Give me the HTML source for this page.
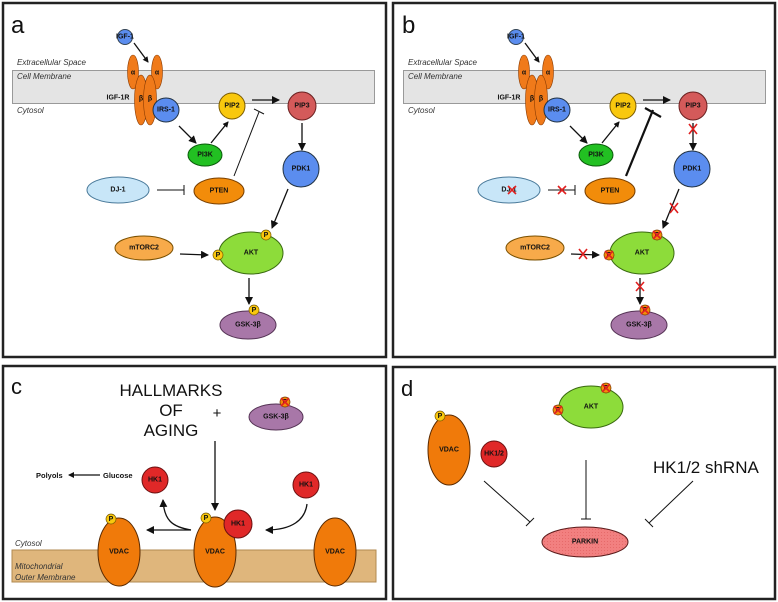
<!DOCTYPE html>
<html><head><meta charset="utf-8"><style>
html,body{margin:0;padding:0;background:#fff;}
svg{display:block;font-family:"Liberation Sans",sans-serif;}
.b{font-weight:bold;font-size:7px;text-anchor:middle;dominant-baseline:central;fill:#111;}
.it{font-style:italic;font-size:8px;fill:#333;}
.ln{stroke:#111;stroke-width:1.3;fill:none;}
.x{stroke:#e02020;stroke-width:1.6;fill:none;}
</style></head><body>
<svg width="778" height="602" viewBox="0 0 778 602" xmlns="http://www.w3.org/2000/svg">
<defs>
<marker id="ah" markerWidth="8" markerHeight="8" refX="7" refY="4" orient="auto" markerUnits="userSpaceOnUse"><path d="M0,0 L8,4 L0,8 z" fill="#111"/></marker>
<marker id="ahs" markerWidth="6" markerHeight="6" refX="5" refY="3" orient="auto" markerUnits="userSpaceOnUse"><path d="M0,0 L6,3 L0,6 z" fill="#111"/></marker>
<pattern id="dots" width="3" height="3" patternUnits="userSpaceOnUse"><rect width="3" height="3" fill="#f28080"/><rect x="1" y="1" width="1" height="1" fill="#e66a6a"/></pattern>
</defs>
<rect width="778" height="602" fill="#fff"/>
<!-- borders -->
<rect x="3" y="3" width="383" height="354" fill="none" stroke="#222" stroke-width="2.5"/>
<rect x="393" y="3" width="382" height="354" fill="none" stroke="#222" stroke-width="2.5"/>
<rect x="3" y="366" width="383" height="233" fill="none" stroke="#222" stroke-width="2.5"/>
<rect x="393" y="367" width="382" height="232" fill="none" stroke="#222" stroke-width="2.5"/>

<!-- ===== PANEL A ===== -->
<text x="11" y="33" font-size="24" fill="#111">a</text>
<text x="17" y="65" class="it">Extracellular Space</text>
<rect x="12.5" y="70.5" width="362" height="33" fill="#e4e4e4" stroke="#999"/>
<text x="17" y="79" class="it">Cell Membrane</text>
<text x="17" y="113" class="it">Cytosol</text>
<circle cx="125" cy="37" r="7.5" fill="#5b8def" stroke="#345"/><text x="125" y="37" class="b" font-size="4">IGF-1</text>
<line x1="134" y1="43" x2="148" y2="62" class="ln" marker-end="url(#ahs)"/>
<ellipse cx="133" cy="72" rx="5.5" ry="17" fill="#f07a1a" stroke="#8a3a00" stroke-width=".6"/><text x="133" y="73" class="b" font-size="5" font-weight="normal">α</text>
<ellipse cx="157" cy="72" rx="5.5" ry="17" fill="#f07a1a" stroke="#8a3a00" stroke-width=".6"/><text x="157" y="73" class="b" font-size="5" font-weight="normal">α</text>
<ellipse cx="141" cy="100" rx="6.5" ry="25" fill="#f07a1a" stroke="#8a3a00" stroke-width=".6"/><text x="141" y="99" class="b" font-size="5" font-weight="normal">β</text>
<ellipse cx="150" cy="100" rx="6.5" ry="25" fill="#f07a1a" stroke="#8a3a00" stroke-width=".6"/><text x="150" y="99" class="b" font-size="5" font-weight="normal">β</text>
<text x="118" y="98" class="b" font-size="8">IGF-1R</text>
<ellipse cx="166" cy="110" rx="13" ry="12" fill="#5b8def" stroke="#234"/><text x="166" y="110" class="b">IRS-1</text>
<circle cx="232" cy="106" r="13" fill="#f9c80e" stroke="#7a5a00"/><text x="232" y="106" class="b">PIP2</text>
<line x1="252" y1="100" x2="279" y2="100" class="ln" marker-end="url(#ah)"/>
<circle cx="302" cy="106" r="14" fill="#d45a5a" stroke="#6a2020"/><text x="302" y="106" class="b">PIP3</text>
<line x1="302" y1="123" x2="302" y2="150" class="ln" marker-end="url(#ah)"/>
<circle cx="301" cy="169" r="18" fill="#5b8def" stroke="#234"/><text x="301" y="169" class="b">PDK1</text>
<ellipse cx="205" cy="155" rx="17" ry="11" fill="#22c022" stroke="#0a5a0a"/><text x="205" y="155" class="b">PI3K</text>
<line x1="179" y1="126" x2="196" y2="143" class="ln" marker-end="url(#ah)"/>
<line x1="211" y1="143" x2="228" y2="122" class="ln" marker-end="url(#ahs)"/>
<line x1="234" y1="176" x2="259" y2="112" stroke="#111" stroke-width="1"/><line x1="254" y1="109" x2="264" y2="114" stroke="#111" stroke-width="1"/>
<ellipse cx="118" cy="190" rx="31" ry="13" fill="#c8e6f8" stroke="#4a7a9a"/><text x="118" y="190" class="b">DJ-1</text>
<line x1="157" y1="190" x2="184" y2="190" stroke="#111" stroke-width="1"/><line x1="184" y1="185" x2="184" y2="195" stroke="#111" stroke-width="1"/>
<ellipse cx="219" cy="191" rx="25" ry="13" fill="#f28c0a" stroke="#7a4000"/><text x="219" y="191" class="b">PTEN</text>
<line x1="288" y1="189" x2="272" y2="228" class="ln" marker-end="url(#ah)"/>
<ellipse cx="144" cy="248" rx="29" ry="12" fill="#f7aa4a" stroke="#7a5000"/><text x="144" y="248" class="b">mTORC2</text>
<line x1="180" y1="254" x2="208" y2="255" class="ln" marker-end="url(#ah)"/>
<ellipse cx="251" cy="253" rx="32" ry="21" fill="#8ddc3a" stroke="#3a6a10"/><text x="251" y="253" class="b">AKT</text>
<circle cx="218" cy="255" r="5" fill="#f9c80e" stroke="#7a5a00" stroke-width=".7"/><text x="218" y="255.5" class="b" font-size="6" font-weight="normal">P</text>
<circle cx="266" cy="235" r="5" fill="#f9c80e" stroke="#7a5a00" stroke-width=".7"/><text x="266" y="235.5" class="b" font-size="6" font-weight="normal">P</text>
<line x1="249" y1="278" x2="249" y2="304" class="ln" marker-end="url(#ah)"/>
<ellipse cx="248" cy="325" rx="28" ry="14" fill="#a877a8" stroke="#553355"/><text x="248" y="325" class="b">GSK-3β</text>
<circle cx="254" cy="310" r="5" fill="#f9c80e" stroke="#7a5a00" stroke-width=".7"/><text x="254" y="310.5" class="b" font-size="6" font-weight="normal">P</text>

<!-- ===== PANEL B ===== -->
<g transform="translate(391,0)">
<text x="11" y="33" font-size="24" fill="#111">b</text>
<text x="17" y="65" class="it">Extracellular Space</text>
<rect x="12.5" y="70.5" width="362" height="33" fill="#e4e4e4" stroke="#999"/>
<text x="17" y="79" class="it">Cell Membrane</text>
<text x="17" y="113" class="it">Cytosol</text>
<circle cx="125" cy="37" r="7.5" fill="#5b8def" stroke="#345"/><text x="125" y="37" class="b" font-size="4">IGF-1</text>
<line x1="134" y1="43" x2="148" y2="62" class="ln" marker-end="url(#ahs)"/>
<ellipse cx="133" cy="72" rx="5.5" ry="17" fill="#f07a1a" stroke="#8a3a00" stroke-width=".6"/><text x="133" y="73" class="b" font-size="5" font-weight="normal">α</text>
<ellipse cx="157" cy="72" rx="5.5" ry="17" fill="#f07a1a" stroke="#8a3a00" stroke-width=".6"/><text x="157" y="73" class="b" font-size="5" font-weight="normal">α</text>
<ellipse cx="141" cy="100" rx="6.5" ry="25" fill="#f07a1a" stroke="#8a3a00" stroke-width=".6"/><text x="141" y="99" class="b" font-size="5" font-weight="normal">β</text>
<ellipse cx="150" cy="100" rx="6.5" ry="25" fill="#f07a1a" stroke="#8a3a00" stroke-width=".6"/><text x="150" y="99" class="b" font-size="5" font-weight="normal">β</text>
<text x="118" y="98" class="b" font-size="8">IGF-1R</text>
<ellipse cx="166" cy="110" rx="13" ry="12" fill="#5b8def" stroke="#234"/><text x="166" y="110" class="b">IRS-1</text>
<circle cx="232" cy="106" r="13" fill="#f9c80e" stroke="#7a5a00"/><text x="232" y="106" class="b">PIP2</text>
<line x1="252" y1="100" x2="279" y2="100" class="ln" marker-end="url(#ah)"/>
<circle cx="302" cy="106" r="14" fill="#d45a5a" stroke="#6a2020"/><text x="302" y="106" class="b">PIP3</text>
<line x1="302" y1="123" x2="302" y2="150" class="ln" marker-end="url(#ah)"/>
<path d="M298,124 L306,134 M306,124 L298,134" class="x"/>
<circle cx="301" cy="169" r="18" fill="#5b8def" stroke="#234"/><text x="301" y="169" class="b">PDK1</text>
<ellipse cx="205" cy="155" rx="17" ry="11" fill="#22c022" stroke="#0a5a0a"/><text x="205" y="155" class="b">PI3K</text>
<line x1="179" y1="126" x2="196" y2="143" class="ln" marker-end="url(#ah)"/>
<line x1="211" y1="143" x2="228" y2="122" class="ln" marker-end="url(#ahs)"/>
<line x1="235" y1="176" x2="262" y2="110" stroke="#111" stroke-width="2.2"/><line x1="254" y1="108" x2="270" y2="117" stroke="#111" stroke-width="2.2"/>
<ellipse cx="118" cy="190" rx="31" ry="13" fill="#c8e6f8" stroke="#4a7a9a"/><text x="118" y="190" class="b">DJ-1</text>
<path d="M117,186 L125,194 M125,186 L117,194" class="x"/>
<line x1="157" y1="190" x2="184" y2="190" stroke="#111" stroke-width="1"/><line x1="184" y1="185" x2="184" y2="195" stroke="#111" stroke-width="1"/>
<path d="M167,186 L175,194 M175,186 L167,194" class="x"/>
<ellipse cx="219" cy="191" rx="25" ry="13" fill="#f28c0a" stroke="#7a4000"/><text x="219" y="191" class="b">PTEN</text>
<line x1="288" y1="189" x2="272" y2="228" class="ln" marker-end="url(#ah)"/>
<path d="M279,203 L287,213 M287,203 L279,213" class="x"/>
<ellipse cx="144" cy="248" rx="29" ry="12" fill="#f7aa4a" stroke="#7a5000"/><text x="144" y="248" class="b">mTORC2</text>
<line x1="180" y1="254" x2="208" y2="255" class="ln" marker-end="url(#ah)"/>
<path d="M188,249 L196,259 M196,249 L188,259" class="x"/>
<ellipse cx="251" cy="253" rx="32" ry="21" fill="#8ddc3a" stroke="#3a6a10"/><text x="251" y="253" class="b">AKT</text>
<circle cx="218" cy="255" r="5" fill="#f28c0a" stroke="#7a3a00" stroke-width=".7"/><text x="218" y="255.5" class="b" font-size="6" fill="#7a0000">P</text><path d="M214,251 L222,259 M222,251 L214,259" class="x" stroke-width="1"/>
<circle cx="266" cy="235" r="5" fill="#f28c0a" stroke="#7a3a00" stroke-width=".7"/><text x="266" y="235.5" class="b" font-size="6" fill="#7a0000">P</text><path d="M262,231 L270,239 M270,231 L262,239" class="x" stroke-width="1"/>
<line x1="249" y1="278" x2="249" y2="304" class="ln" marker-end="url(#ah)"/>
<path d="M245,282 L253,291 M253,282 L245,291" class="x"/>
<ellipse cx="248" cy="325" rx="28" ry="14" fill="#a877a8" stroke="#553355"/><text x="248" y="325" class="b">GSK-3β</text>
<circle cx="254" cy="310" r="5" fill="#f28c0a" stroke="#7a3a00" stroke-width=".7"/><text x="254" y="310.5" class="b" font-size="6" fill="#7a0000">P</text><path d="M250,306 L258,314 M258,306 L250,314" class="x" stroke-width="1"/>
</g>

<!-- ===== PANEL C ===== -->
<text x="11" y="394" font-size="22" fill="#111">c</text>
<text x="171" y="396" font-size="17" text-anchor="middle" fill="#111">HALLMARKS</text>
<text x="171" y="416" font-size="17" text-anchor="middle" fill="#111">OF</text>
<text x="171" y="436" font-size="17" text-anchor="middle" fill="#111">AGING</text>
<text x="217" y="418" font-size="15" text-anchor="middle" fill="#111">+</text>
<ellipse cx="276" cy="417" rx="27" ry="13" fill="#a877a8" stroke="#553355"/><text x="276" y="417" class="b">GSK-3β</text>
<circle cx="285" cy="402" r="5" fill="#f28c0a" stroke="#7a3a00" stroke-width=".7"/><text x="285" y="402.5" class="b" font-size="6" fill="#7a0000">P</text><path d="M281,398 L289,406 M289,398 L281,406" class="x" stroke-width="1"/>
<line x1="215" y1="441" x2="215" y2="510" class="ln" marker-end="url(#ah)"/>
<text x="36" y="478" font-size="7.5" font-weight="bold" fill="#111">Polyols</text>
<line x1="100" y1="475" x2="69" y2="475" class="ln" marker-end="url(#ahs)"/>
<text x="103" y="478" font-size="7.5" font-weight="bold" fill="#111">Glucose</text>
<circle cx="155" cy="480" r="13" fill="#e02828" stroke="#6a1010"/><text x="155" y="480" class="b">HK1</text>
<circle cx="306" cy="485" r="13" fill="#e02828" stroke="#6a1010"/><text x="306" y="485" class="b">HK1</text>
<rect x="12" y="550" width="364" height="32" fill="#dfb67c" stroke="#b08a50"/>
<text x="15" y="546" class="it">Cytosol</text>
<text x="15" y="569" class="it">Mitochondrial</text>
<text x="15" y="580" class="it">Outer Membrane</text>
<ellipse cx="119" cy="552" rx="21" ry="34" fill="#f07a0a" stroke="#5a2a00"/><text x="119" y="552" class="b">VDAC</text>
<circle cx="111" cy="519" r="5" fill="#f9c80e" stroke="#7a5a00" stroke-width=".7"/><text x="111" y="519.5" class="b" font-size="6" font-weight="normal">P</text>
<ellipse cx="215" cy="552" rx="21" ry="35" fill="#f07a0a" stroke="#5a2a00"/><text x="215" y="552" class="b">VDAC</text>
<circle cx="206" cy="518" r="5" fill="#f9c80e" stroke="#7a5a00" stroke-width=".7"/><text x="206" y="518.5" class="b" font-size="6" font-weight="normal">P</text>
<circle cx="238" cy="524" r="14" fill="#e02828" stroke="#6a1010"/><text x="238" y="524" class="b">HK1</text>
<ellipse cx="335" cy="552" rx="21" ry="34" fill="#f07a0a" stroke="#5a2a00"/><text x="335" y="552" class="b">VDAC</text>
<line x1="191" y1="530" x2="147" y2="530" class="ln" marker-end="url(#ah)"/>
<path d="M191,530 C172,527 164,520 163,500" class="ln" marker-end="url(#ah)"/>
<path d="M307,504 C305,520 292,530 266,530" class="ln" marker-end="url(#ah)"/>

<!-- ===== PANEL D ===== -->
<text x="401" y="396" font-size="22" fill="#111">d</text>
<ellipse cx="591" cy="407" rx="32" ry="21" fill="#8ddc3a" stroke="#3a6a10"/><text x="591" y="407" class="b">AKT</text>
<circle cx="606" cy="388" r="5" fill="#f28c0a" stroke="#7a3a00" stroke-width=".7"/><text x="606" y="388.5" class="b" font-size="6" fill="#7a0000">P</text><path d="M602,384 L610,392 M610,384 L602,392" class="x" stroke-width="1"/>
<circle cx="558" cy="410" r="5" fill="#f28c0a" stroke="#7a3a00" stroke-width=".7"/><text x="558" y="410.5" class="b" font-size="6" fill="#7a0000">P</text><path d="M554,406 L562,414 M562,406 L554,414" class="x" stroke-width="1"/>
<ellipse cx="449" cy="450" rx="21" ry="35" fill="#f07a0a" stroke="#5a2a00"/><text x="449" y="450" class="b">VDAC</text>
<circle cx="440" cy="416" r="5" fill="#f9c80e" stroke="#7a5a00" stroke-width=".7"/><text x="440" y="416.5" class="b" font-size="6" font-weight="normal">P</text>
<circle cx="494" cy="454" r="13" fill="#e02828" stroke="#6a1010"/><text x="494" y="454" class="b" font-size="6.5">HK1/2</text>
<text x="653" y="473" font-size="17" fill="#111">HK1/2 shRNA</text>
<line x1="484" y1="481" x2="530" y2="522" stroke="#111" stroke-width="1"/><line x1="526" y1="526" x2="534" y2="518" stroke="#111" stroke-width="1"/>
<line x1="586" y1="460" x2="586" y2="519" stroke="#111" stroke-width="1"/><line x1="581" y1="519" x2="591" y2="519" stroke="#111" stroke-width="1"/>
<line x1="693" y1="481" x2="649" y2="523" stroke="#111" stroke-width="1"/><line x1="645" y1="519" x2="653" y2="527" stroke="#111" stroke-width="1"/>
<ellipse cx="585" cy="542" rx="43" ry="15" fill="url(#dots)" stroke="#5a1a1a"/><text x="585" y="542" class="b" font-size="6">PARKIN</text>
</g>
</svg>
</body></html>
